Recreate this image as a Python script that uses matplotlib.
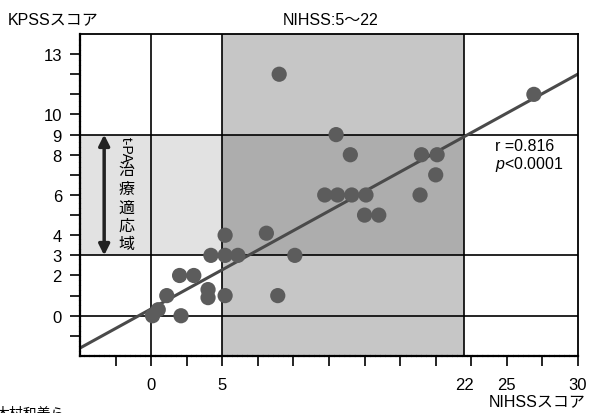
"""
KPSSスコア vs NIHSSスコア 散布図 (t-PA治療適応域)
"""
import numpy as np
import matplotlib
matplotlib.use("Agg")
import matplotlib.pyplot as plt
from matplotlib.transforms import blended_transform_factory

plt.rcParams['font.family'] = ['Liberation Sans', 'Noto Sans CJK JP']
plt.rcParams['mathtext.fontset'] = 'custom'
plt.rcParams['mathtext.it'] = 'Liberation Sans:italic'

# ======================== データ ========================
nihss = [0.1, 0.5, 2.1, 1.1, 2.0, 3.0, 4.0, 4.0, 5.2, 4.2, 5.2, 6.1,
         5.2, 8.1, 10.1, 8.9, 9.0, 13.0, 14.0, 12.2, 13.1, 14.1, 15.1,
         15.0, 16.0, 19.0, 20.1, 20.0, 18.9, 26.9]
kpss = [0.0, 0.3, 0.0, 1.0, 2.0, 2.0, 1.3, 0.9, 1.0, 3.0, 3.0, 3.0,
        4.0, 4.1, 3.0, 1.0, 12.0, 9.0, 8.0, 6.0, 6.0, 6.0, 6.0,
        5.0, 5.0, 8.0, 8.0, 7.0, 6.0, 11.0]

# 回帰直線
fit_slope = 0.389
fit_intercept = 0.34

nihss_range = (5, 22)      # 適応 NIHSS
kpss_range = (3, 9)        # 適応 KPSS

x_ticks = [-2.5, 0, 2.5, 5, 7.5, 10, 12.5, 15, 17.5, 20, 22.5, 25, 27.5, 30]
x_tick_labels = ['', '0', '', '5', '', '', '', '', '', '', '', '25', '', '30']
y_ticks = list(range(-1, 14))
y_tick_labels = ['', '0', '', '2', '3', '4', '', '6', '', '8', '9', '10', '', '', '13']

label_text = 't-PA治療適応域'
stats_text = 'r =0.816\n$p$<0.0001'

# ======================== 描画 ========================
fig = plt.figure(figsize=(5.89, 4.14), dpi=100)
ax = fig.add_axes([0.1358, 0.1377, 0.8455, 0.7778])
ax.set_xlim(-5, 30)
ax.set_ylim(-2, 14)

# 網掛け領域
ax.axvspan(nihss_range[0], nihss_range[1], color='#c6c6c6', lw=0, zorder=0)
ax.fill_between([-5, nihss_range[0]], kpss_range[0], kpss_range[1],
                color='#e2e2e2', lw=0, zorder=0)
ax.fill_between(list(nihss_range), kpss_range[0], kpss_range[1],
                color='#adadad', lw=0, zorder=0)

# 区切り線
for yv in [kpss_range[1], kpss_range[0], 0]:
    ax.axhline(yv, color='black', lw=1.2, zorder=1)
for xv in [0, nihss_range[0], nihss_range[1]]:
    ax.axvline(xv, color='black', lw=1.2, zorder=1)

# 回帰直線
xl = np.array([-5, 30])
ax.plot(xl, fit_slope * xl + fit_intercept, color='#4a4a4a', lw=2.2, zorder=2)

# 散布点
ax.scatter(nihss, kpss, s=120, color='#5c5c5c', edgecolors='none', zorder=3)

# 軸
ax.set_xticks(x_ticks, x_tick_labels)
ax.set_xticks([nihss_range[1]], [str(nihss_range[1])], minor=True)
ax.set_yticks(y_ticks, y_tick_labels)
ax.tick_params(axis='both', which='major', direction='out', length=7,
               width=1.2, labelsize=12, pad=8)
ax.tick_params(axis='x', which='minor', length=0, labelsize=12, pad=15)
ax.tick_params(axis='y', pad=6)
for side in ['top', 'right']:
    ax.spines[side].set_linewidth(1.3)
for side in ['left', 'bottom']:
    ax.spines[side].set_linewidth(1.6)
    ax.spines[side].set_linestyle((0, (1.5, 0.8)))

# 軸ラベル
fig.text(0.014, 0.952, 'KPSSスコア', fontsize=11.5, va='center', ha='left')
ax.text(12.6, 1.045, 'NIHSS:5〜22', transform=blended_transform_factory(ax.transData, ax.transAxes),
        fontsize=11.5, ha='center', va='center')
fig.text(0.994, 0.030, 'NIHSSスコア', fontsize=11.5, ha='right', va='center')

# 相関係数
ax.text(24.2, 7.95, stats_text, fontsize=11.5, ha='left', va='center',
        linespacing=1.05)

# t-PA治療適応域 矢印
ax.annotate('', xy=(-3.3, kpss_range[0]), xytext=(-3.3, kpss_range[1]),
            arrowprops=dict(arrowstyle='<|-|>', color='#222222', lw=2.5,
                            mutation_scale=16, shrinkA=0, shrinkB=0))
ax.text(-1.75, 8.3, label_text[:4], rotation=270, fontsize=10,
        ha='center', va='center')
for i, ch in enumerate(label_text[4:]):
    ax.text(-1.75, 7.25 - 0.92 * i, ch, fontsize=11.5, ha='center', va='center')

# 出典 (下端で切れている)
fig.text(-0.008, 0.017, '木村和美ら', fontsize=10, ha='left', va='top')

fig.savefig('out.png', dpi=100)
